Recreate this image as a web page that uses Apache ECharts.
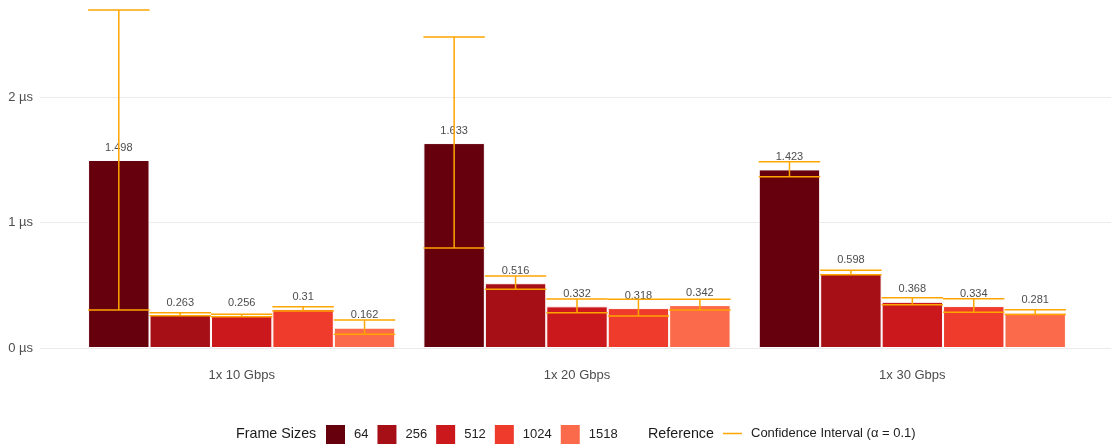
<!DOCTYPE html>
<html>
<head>
<meta charset="utf-8">
<script src="https://cdn.jsdelivr.net/npm/echarts@6/dist/echarts.min.js"></script>
<style>
  html, body { margin: 0; padding: 0; background: #fff; }
  #chart { width: 1111px; height: 448px; }
</style>
</head>
<body>
<div id="chart"></div>
<script>
const groups = ["1x 10 Gbps", "1x 20 Gbps", "1x 30 Gbps"];
const frameSizes = ["64", "256", "512", "1024", "1518"];
const frameColors = ["#67000d", "#a50f15", "#cb181d", "#ef3b2c", "#fb6a4a"];

// mean latency (µs) per frame size, one array per link speed
const mean10 = [1.498, 0.263, 0.256, 0.31, 0.162];
const mean20 = [1.633, 0.516, 0.332, 0.318, 0.342];
const mean30 = [1.423, 0.598, 0.368, 0.334, 0.281];

// confidence interval bounds (alpha = 0.1)
const low10 = [0.303, 0.257, 0.25, 0.295, 0.109];
const high10 = [2.693, 0.281, 0.268, 0.329, 0.223];
const low20 = [0.797, 0.468, 0.281, 0.255, 0.303];
const high20 = [2.478, 0.574, 0.39, 0.388, 0.388];
const low30 = [1.365, 0.584, 0.345, 0.284, 0.266];
const high30 = [1.485, 0.619, 0.401, 0.393, 0.305];

const yTicks = [0, 1, 2];

const means = [mean10, mean20, mean30];
const lows = [low10, low20, low30];
const highs = [high10, high20, high30];

const CI_NAME = "Confidence Interval (\u03b1 = 0.1)";
const GAP = 0.084;
const font = "'Liberation Sans', Arial, Helvetica, sans-serif";

const chart = echarts.init(document.getElementById("chart"));

const barSeries = frameSizes.map((fs, i) => ({
  name: fs,
  type: "bar",
  xAxisIndex: 0,
  yAxisIndex: 0,
  barGap: "0%",
  barCategoryGap: GAP * 100 + "%",
  data: means.map((m) => m[i]),
  itemStyle: { color: frameColors[i], borderColor: "#fff", borderWidth: 1 },
  label: {
    show: true,
    position: "top",
    distance: 7,
    color: "#4d4d4d",
    fontSize: 11,
    fontFamily: font,
  },
  z: 2,
}));

const ciData = [];
groups.forEach((g, gi) => {
  frameSizes.forEach((fs, fi) => {
    ciData.push([gi, fi, lows[gi][fi], highs[gi][fi]]);
  });
});

function renderCI(params, api) {
  const gi = api.value(0);
  const fi = api.value(1);
  const band = api.size([1, 0])[0];
  const barW = (band * (1 - GAP)) / frameSizes.length;
  const cx = api.coord([gi, 0])[0] + (fi - (frameSizes.length - 1) / 2) * barW;
  const yLo = api.coord([gi, api.value(2)])[1];
  const yHi = api.coord([gi, api.value(3)])[1];
  const style = { stroke: "#FFA500", lineWidth: 1.5 };
  return {
    type: "group",
    children: [
      { type: "line", shape: { x1: cx - barW / 2, y1: yHi, x2: cx + barW / 2, y2: yHi }, style },
      { type: "line", shape: { x1: cx - barW / 2, y1: yLo, x2: cx + barW / 2, y2: yLo }, style },
      { type: "line", shape: { x1: cx, y1: yHi, x2: cx, y2: yLo }, style },
    ],
  };
}

const option = {
  backgroundColor: "#fff",
  animation: false,
  textStyle: { fontFamily: font },
  grid: [
    { left: 74, right: 31, top: 0, bottom: 100 },
    { left: 40, right: 0, top: 0, bottom: 100 },
  ],
  xAxis: [
    {
      type: "category",
      gridIndex: 0,
      data: groups,
      axisLine: { show: false },
      axisTick: { show: false },
      axisLabel: { color: "#4d4d4d", fontSize: 13, margin: 21, fontFamily: font },
    },
    { type: "value", gridIndex: 1, show: false, min: 0, max: 1 },
  ],
  yAxis: [
    { type: "value", gridIndex: 0, min: 0, max: 2.773, show: false },
    {
      type: "value",
      gridIndex: 1,
      min: 0,
      max: 2.773,
      interval: 1,
      axisLine: { show: false },
      axisTick: { show: false },
      axisLabel: {
        color: "#4d4d4d",
        fontSize: 13,
        margin: 7,
        fontFamily: font,
        showMaxLabel: false,
        formatter: (v) => (yTicks.includes(v) ? v + " \u00b5s" : ""),
      },
      splitLine: { show: true, showMaxLine: false, lineStyle: { color: "#ebebeb", width: 1 } },
    },
  ],
  legend: [
    {
      data: frameSizes,
      left: 324,
      top: 423,
      padding: 0,
      icon: "rect",
      itemWidth: 21,
      itemHeight: 21,
      itemGap: 7,
      selectedMode: false,
      textStyle: { color: "#222", fontSize: 13, fontFamily: font, padding: [0, 0, 0, 3] },
    },
    {
      data: [{ name: CI_NAME, icon: "rect" }],
      left: 723,
      top: 423,
      padding: 0,
      itemWidth: 19,
      itemHeight: 1.5,
      selectedMode: false,
      textStyle: { color: "#222", fontSize: 13, fontFamily: font, padding: [0, 0, 0, 4], lineHeight: 21 },
    },
  ],
  graphic: [
    {
      type: "text",
      left: 236,
      top: 427,
      style: { text: "Frame Sizes", fill: "#1a1a1a", fontSize: 14.3, fontFamily: font },
    },
    {
      type: "text",
      left: 648,
      top: 427,
      style: { text: "Reference", fill: "#1a1a1a", fontSize: 14.3, fontFamily: font },
    },
  ],
  series: [
    ...barSeries,
    {
      name: CI_NAME,
      type: "custom",
      xAxisIndex: 0,
      yAxisIndex: 0,
      renderItem: renderCI,
      encode: { x: 0, y: [2, 3] },
      itemStyle: { color: "#FFA500" },
      data: ciData,
      z: 5,
    },
  ],
};

chart.setOption(option);
</script>
</body>
</html>
